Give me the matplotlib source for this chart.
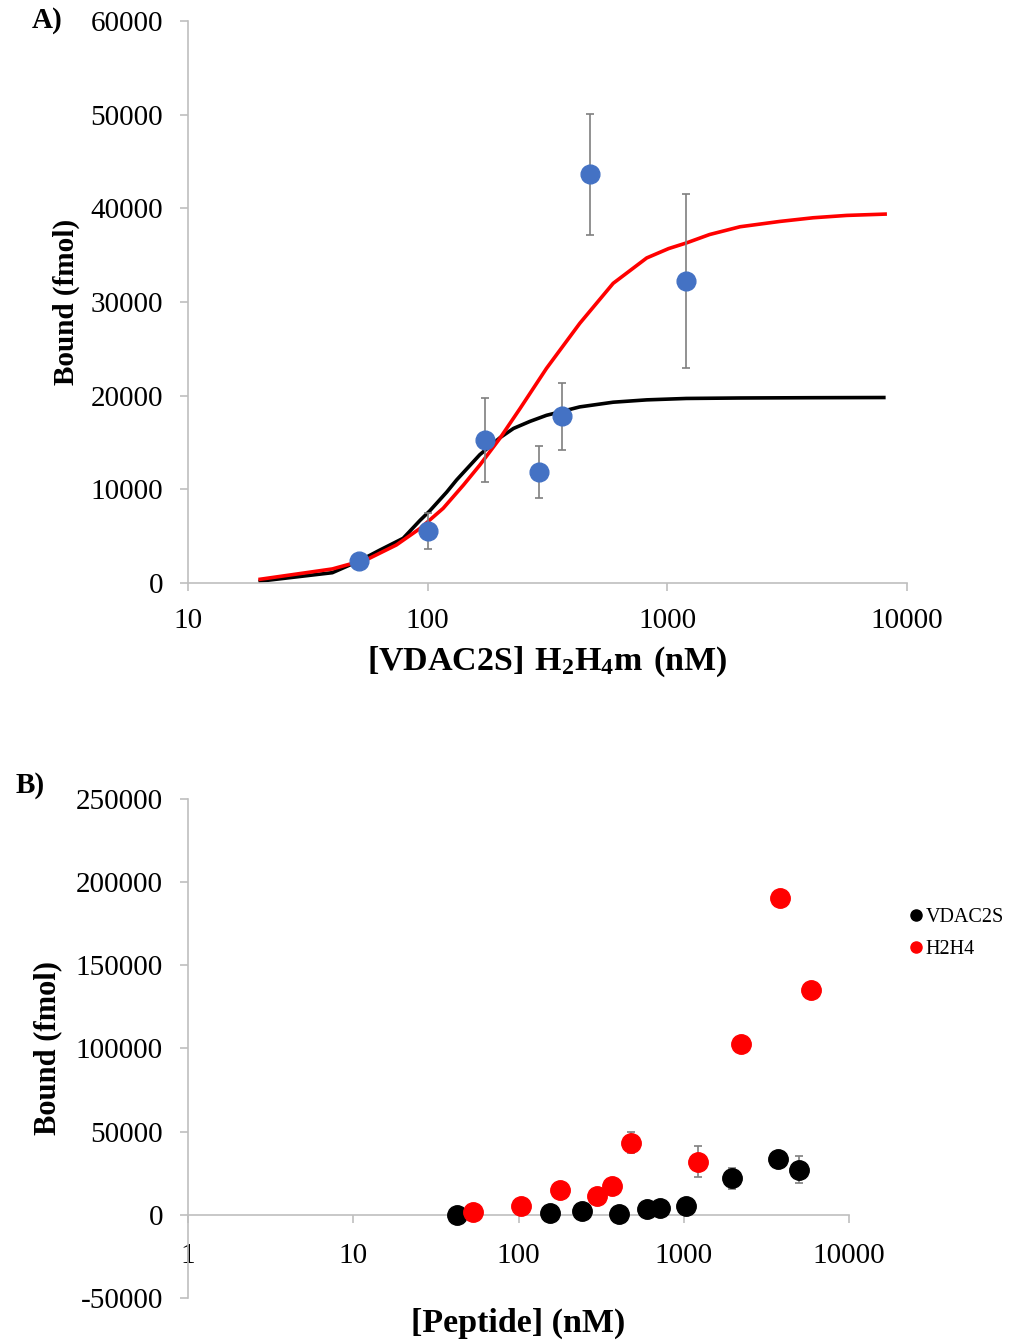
import matplotlib.pyplot as plt
from matplotlib.lines import Line2D
from matplotlib.ticker import NullLocator

plt.rcParams['font.family'] = ['Liberation Serif', 'DejaVu Serif']
plt.rcParams['mathtext.fontset'] = 'custom'
plt.rcParams['mathtext.rm'] = 'Liberation Serif'
plt.rcParams['mathtext.bf'] = 'Liberation Serif:bold'
plt.rcParams['axes.unicode_minus'] = False

# panel A: measured points (VDAC2S vs H2H4m)
a_conc = [51.7, 100, 173, 291, 363, 475, 1197]
a_bound = [2300, 5550, 15300, 11850, 17800, 43650, 32250]
a_err = [500, 1900, 4500, 2800, 3600, 6450, 9300]

# panel A: fitted curves
black_conc = [20, 40, 52, 63, 79, 93, 102, 120, 132, 141, 165, 200, 228, 267, 313, 431, 594, 820, 1200, 2000, 4000, 8000]
black_fit = [200, 1100, 2380, 3500, 4770, 6700, 7700, 9700, 11000, 11800, 13700, 15500, 16500, 17250, 17900,
             18800, 19300, 19550, 19700, 19750, 19780, 19800]
red_conc = [20, 40, 56, 74, 93, 116, 141, 165, 200, 243, 313, 431, 594, 820, 1012, 1200, 1500, 2010, 2950, 4060, 5600, 8100]
red_fit = [400, 1500, 2530, 4060, 5830, 7970, 10460, 12590, 15440, 18640, 22910, 27720, 31990, 34700, 35700,
           36300, 37200, 38030, 38600, 38990, 39240, 39380]

# panel B: binding of both peptides
vdac_conc = [42.6, 155, 242, 403, 597, 718, 1028, 1950, 3734, 4980]
vdac_bound = [0, 1000, 2300, 600, 3600, 4400, 5400, 22050, 33650, 27200]
vdac_err = [500, 500, 500, 500, 500, 500, 500, 6300, 0, 8300]

h2h4_conc = [53.3, 103, 178, 297, 368, 480, 1214, 2208, 3821, 5865]
h2h4_bound = [2000, 5200, 15000, 11600, 17600, 43300, 32000, 102900, 190700, 135400]
h2h4_err = [500, 1900, 4500, 2800, 3600, 6300, 9300, 0, 0, 0]

grey = '#BFBFBF'
err_grey = '#7F7F7F'

fig = plt.figure(figsize=(10.12, 13.43), dpi=100)

# ---- panel A ----
ax1 = fig.add_axes([0.1858, 0.5659, 0.7105, 0.4185])
ax1.plot(black_conc, black_fit, color='black', lw=2.6, zorder=2)
ax1.plot(red_conc, red_fit, color='#FF0000', lw=2.6, zorder=3)
ax1.errorbar(a_conc, a_bound, yerr=a_err, fmt='o', color='#4472C4', ms=13.5,
             ecolor=err_grey, elinewidth=1.2, capsize=3, capthick=1.2, zorder=4)
ax1.set_xscale('log')
ax1.set_xlim(10, 10000)
ax1.set_ylim(0, 60000)
ax1.set_xticks([10, 100, 1000, 10000])
ax1.set_xticklabels(['10', '100', '1000', '10000'])
ax1.xaxis.set_minor_locator(NullLocator())
ax1.set_yticks(range(0, 60001, 10000))
ax1.set_ylabel('Bound (fmol)', fontsize=21, fontweight='bold')
ax1.set_xlabel(r'$\mathbf{[VDAC2S]\ H_2H_4m\ (nM)}$', fontsize=24.5)
ax1.yaxis.set_label_coords(-0.150, 0.5)
ax1.xaxis.set_label_coords(0.5, -0.11)

# ---- panel B ----
ax2 = fig.add_axes([0.1858, 0.0335, 0.6532, 0.3716])
ax2.errorbar(vdac_conc, vdac_bound, yerr=vdac_err, fmt='o', color='black', ms=14,
             ecolor=err_grey, elinewidth=1.2, capsize=3, capthick=1.2, zorder=3)
ax2.errorbar(h2h4_conc, h2h4_bound, yerr=h2h4_err, fmt='o', color='#FF0000', ms=14,
             ecolor=err_grey, elinewidth=1.2, capsize=3, capthick=1.2, zorder=3)
ax2.set_xscale('log')
ax2.set_xlim(1, 10000)
ax2.set_ylim(-50000, 250000)
ax2.set_xticks([1, 10, 100, 1000, 10000])
ax2.set_xticklabels(['1', '10', '100', '1000', '10000'])
ax2.xaxis.set_minor_locator(NullLocator())
ax2.set_yticks(range(-50000, 250001, 50000))
ax2.spines['bottom'].set_position(('data', 0))
ax2.set_ylabel('Bound (fmol)', fontsize=22, fontweight='bold')
ax2.set_xlabel('[Peptide] (nM)', fontsize=24.5, fontweight='bold')
ax2.yaxis.set_label_coords(-0.19, 0.5)
ax2.xaxis.set_label_coords(0.5, -0.02)

for ax in (ax1, ax2):
    for s in ('top', 'right'):
        ax.spines[s].set_visible(False)
    for s in ('left', 'bottom'):
        ax.spines[s].set_color(grey)
        ax.spines[s].set_linewidth(1.2)
    ax.tick_params(axis='both', which='major', labelsize=21, color=grey,
                   length=6, width=1.2, direction='out', pad=12)
ax2.tick_params(axis='x', pad=14)

handles = [Line2D([], [], marker='o', ls='none', color='black', ms=8),
           Line2D([], [], marker='o', ls='none', color='#FF0000', ms=8)]
fig.legend(handles, ['VDAC2S', 'H2H4'], loc='upper left',
           bbox_to_anchor=(0.887, 1 - 900 / 1343), frameon=False, fontsize=14.5,
           handletextpad=0.0, handlelength=1.0, labelspacing=0.65, borderaxespad=0)

fig.text(0.047, 1 - 21 / 1343, 'A)', fontsize=21, fontweight='bold', ha='center', va='center')
fig.text(0.030, 1 - 785 / 1343, 'B)', fontsize=21, fontweight='bold', ha='center', va='center')

fig.savefig('out.png', dpi=100)
